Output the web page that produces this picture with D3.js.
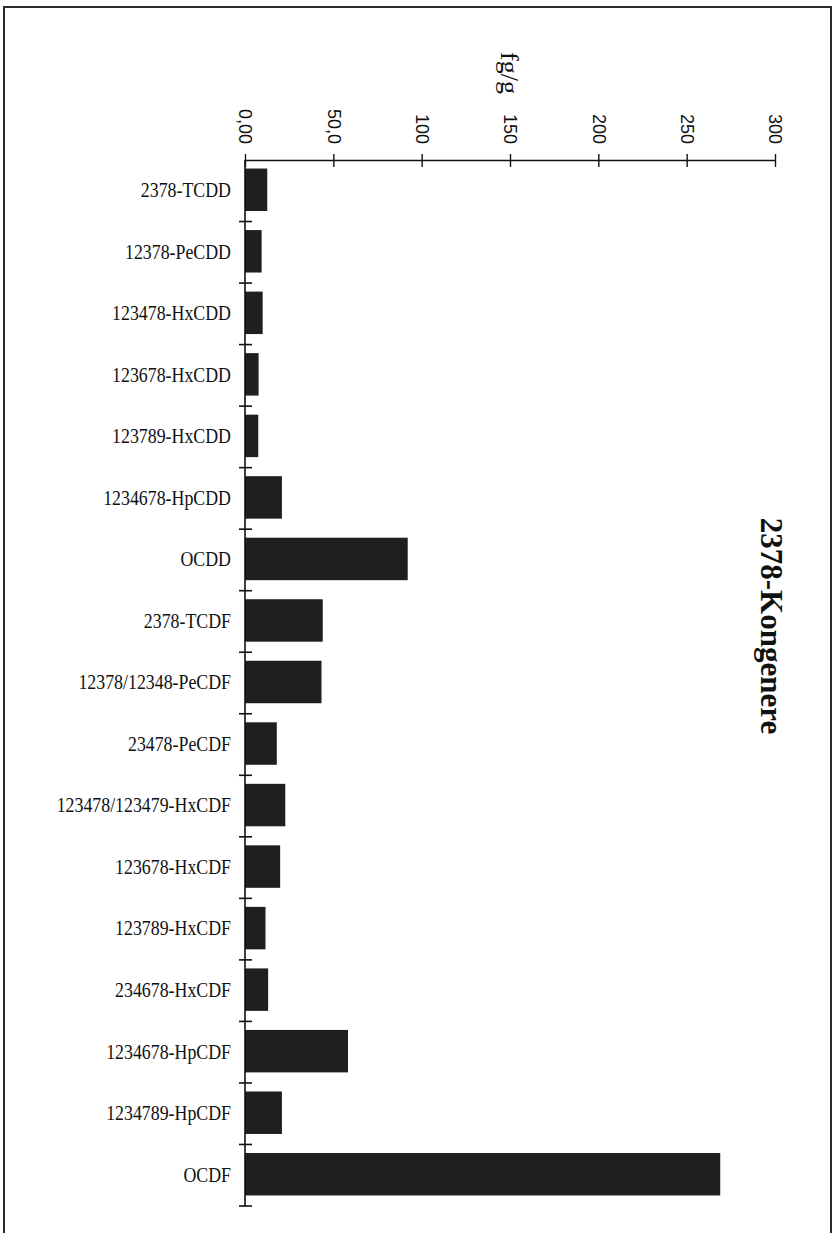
<!DOCTYPE html>
<html>
<head>
<meta charset="utf-8">
<script src="https://cdn.jsdelivr.net/npm/d3@7"></script>
<style>
  html, body { margin: 0; padding: 0; background: #fff; }
  svg { display: block; }
</style>
</head>
<body>
<div id="chart"></div>
<script>
const categories = [
  "2378-TCDD", "12378-PeCDD", "123478-HxCDD", "123678-HxCDD", "123789-HxCDD",
  "1234678-HpCDD", "OCDD", "2378-TCDF", "12378/12348-PeCDF", "23478-PeCDF",
  "123478/123479-HxCDF", "123678-HxCDF", "123789-HxCDF", "234678-HxCDF",
  "1234678-HpCDF", "1234789-HpCDF", "OCDF"
];
const values = [
  12.6, 9.4, 10.0, 7.7, 7.5,
  20.9, 92.1, 44.0, 43.3, 18.0,
  22.8, 19.9, 11.6, 13.1,
  58.3, 20.9, 269
];
const tickValues = [0, 50, 100, 150, 200, 250, 300];
const tickLabels = ["0,00", "50,0", "100", "150", "200", "250", "300"];
const unitLabel = "fg/g";
const title = "2378-Kongenere";

const W = 837, H = 1233;
const svg = d3.select("#chart").append("svg").attr("width", W).attr("height", H);

// page frame
svg.append("rect")
  .attr("x", 4).attr("y", 7).attr("width", 827).attr("height", 1260)
  .attr("fill", "none").attr("stroke", "#2a2a2a").attr("stroke-width", 2);

const x = d3.scaleLinear().domain([0, 300]).range([245, 775]);
const y = d3.scaleBand().domain(categories).range([160, 1206])
  .paddingInner(0.31).paddingOuter(0.155);

// bars
svg.append("g").selectAll("rect").data(categories).join("rect")
  .attr("x", x(0))
  .attr("y", d => y(d) - 1)
  .attr("width", (d, i) => x(values[i]) - x(0))
  .attr("height", y.bandwidth())
  .attr("fill", "#1f1f1f");

// top value axis
const xAxis = d3.axisTop(x)
  .tickValues(tickValues)
  .tickFormat((d, i) => tickLabels[i])
  .tickSizeInner(6).tickSizeOuter(0);
const gx = svg.append("g").attr("transform", "translate(0,160)").call(xAxis);
gx.select(".domain").attr("stroke", "#111").attr("stroke-width", 1.6);
gx.selectAll(".tick line").attr("y1", 7).attr("y2", -6).attr("stroke", "#111").attr("stroke-width", 1.4);
gx.selectAll(".tick text")
  .attr("x", 0).attr("y", 0).attr("dy", "0.35em")
  .attr("transform", "translate(0,-16) rotate(90)")
  .attr("text-anchor", "end")
  .attr("font-family", "'Liberation Sans', Arial, sans-serif")
  .attr("font-size", 18)
  .attr("fill", "#111");

// left category axis (line + boundary ticks)
const axisX = 245;
svg.append("line")
  .attr("x1", axisX).attr("x2", axisX)
  .attr("y1", y.range()[0]).attr("y2", y.range()[1])
  .attr("stroke", "#111").attr("stroke-width", 1.6);
const bounds = d3.range(1, categories.length + 1).map(i => y.range()[0] + i * y.step());
svg.append("g").selectAll("line").data(bounds).join("line")
  .attr("x1", axisX - 6).attr("x2", axisX + 7)
  .attr("y1", d => d).attr("y2", d => d)
  .attr("stroke", "#111").attr("stroke-width", 1.6);

// category labels
svg.append("g").selectAll("text").data(categories).join("text")
  .attr("transform", d => `translate(231,${y(d) + y.bandwidth() / 2 - 1}) scale(0.85,1)`)
  .attr("dy", "0.35em")
  .attr("text-anchor", "end")
  .attr("font-family", "'Liberation Serif', 'Times New Roman', serif")
  .attr("font-size", 21)
  .attr("fill", "#111")
  .text(d => d);

// unit label
svg.append("text")
  .attr("transform", "translate(509,73) rotate(90)")
  .attr("text-anchor", "middle")
  .attr("dy", "0.3em")
  .attr("font-family", "'Liberation Serif', 'Times New Roman', serif")
  .attr("font-size", 26)
  .attr("fill", "#111")
  .text(unitLabel);

// title
svg.append("text")
  .attr("transform", "translate(770,626) rotate(90)")
  .attr("text-anchor", "middle")
  .attr("dy", "0.3em")
  .attr("font-family", "'Liberation Serif', 'Times New Roman', serif")
  .attr("font-weight", "bold")
  .attr("font-size", 31)
  .attr("fill", "#111")
  .text(title);
</script>
</body>
</html>
